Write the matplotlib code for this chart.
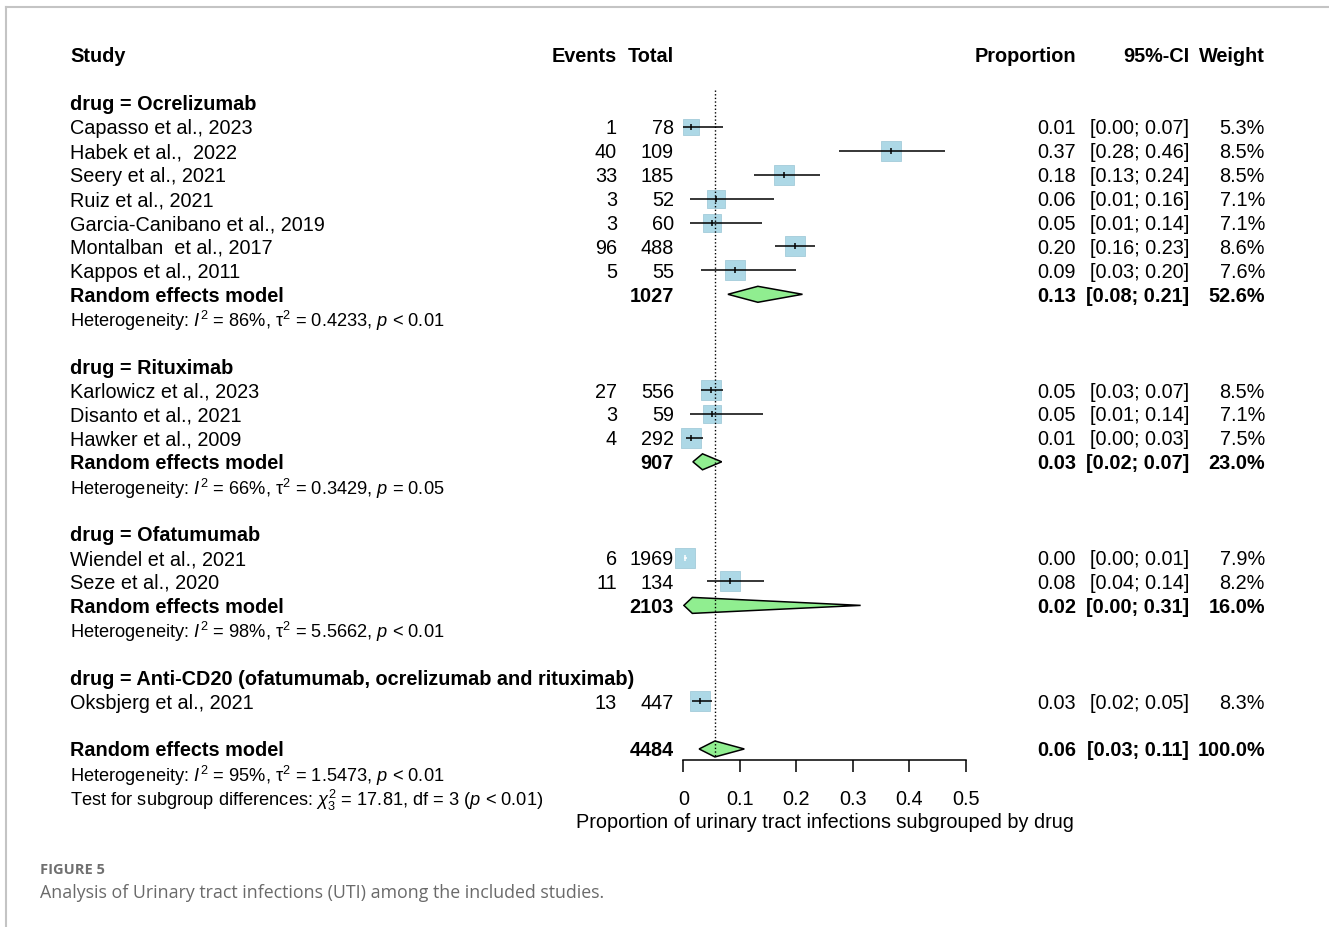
import matplotlib
matplotlib.use("Agg")
import matplotlib.pyplot as plt
import matplotlib.transforms as mtransforms
from matplotlib.lines import Line2D

W, H, DPI = 1329, 927, 100

# ---- data ----
groups = ["Ocrelizumab", "Rituximab", "Ofatumumab",
          "Anti-CD20 (ofatumumab, ocrelizumab and rituximab)"]
studies = ["Capasso et al., 2023", "Habek et al.,  2022", "Seery et al., 2021",
           "Ruiz et al., 2021", "Garcia-Canibano et al., 2019", "Montalban  et al., 2017",
           "Kappos et al., 2011",
           "Karlowicz et al., 2023", "Disanto et al., 2021", "Hawker et al., 2009",
           "Wiendel et al., 2021", "Seze et al., 2020",
           "Oksbjerg et al., 2021"]
study_group = [0, 0, 0, 0, 0, 0, 0, 1, 1, 1, 2, 2, 3]
events = [1, 40, 33, 3, 3, 96, 5, 27, 3, 4, 6, 11, 13]
totals = [78, 109, 185, 52, 60, 488, 55, 556, 59, 292, 1969, 134, 447]
prop = [0.013, 0.367, 0.179, 0.058, 0.050, 0.197, 0.091, 0.049, 0.051, 0.014, 0.003, 0.082, 0.029]
ci_lo = [0.000, 0.276, 0.126, 0.012, 0.011, 0.163, 0.031, 0.032, 0.011, 0.004, 0.001, 0.042, 0.016]
ci_hi = [0.071, 0.464, 0.242, 0.160, 0.140, 0.234, 0.200, 0.070, 0.141, 0.034, 0.007, 0.143, 0.050]
weights = [5.3, 8.5, 8.5, 7.1, 7.1, 8.6, 7.6, 8.5, 7.1, 7.5, 7.9, 8.2, 8.3]

# random effects per subgroup (None = single study, no pooled row)
grp_total = [1027, 907, 2103, None]
grp_est = [0.132, 0.034, 0.016, None]
grp_lo = [0.079, 0.017, 0.001, None]
grp_hi = [0.211, 0.068, 0.314, None]
grp_weight = [52.6, 23.0, 16.0, None]
grp_i2 = ["86%", "66%", "98%", None]
grp_tau2 = ["0.4233", "0.3429", "5.5662", None]
grp_p = ["< 0.01", "= 0.05", "< 0.01", None]

overall_total = 4484
overall_est, overall_lo, overall_hi, overall_weight = 0.056, 0.028, 0.108, 100.0
overall_het = ("95%", "1.5473", "< 0.01")
subgroup_test = ("17.81", "3", "< 0.01")

x_ticks = [0, 0.1, 0.2, 0.3, 0.4, 0.5]
x_ticklabels = ["0", "0.1", "0.2", "0.3", "0.4", "0.5"]
x_label = "Proportion of urinary tract infections subgrouped by drug"

# ---- style ----
FS = 14.3
FS_HET = 13.15
SQUARE = "#ADD8E6"
DIAMOND = "#90EE90"
ROW0_PX, ROW_PX = 55.0, 23.93
AX_X0_PX, AX_X1_PX = 683.3, 965.7

# column anchors (pixels)
X_STUDY = 70
X_EVENTS = 617
X_TOTAL = 674
X_PROP = 1076
X_CI = 1189
X_WEIGHT = 1265

plt.rcParams.update({
    "font.family": ["Liberation Sans", "DejaVu Sans"],
    "mathtext.fontset": "custom",
    "mathtext.rm": "Liberation Sans",
    "mathtext.it": "Liberation Sans:italic",
    "mathtext.bf": "Liberation Sans:bold",
})

fig = plt.figure(figsize=(W / DPI, H / DPI), dpi=DPI, facecolor="white")

ylo, yhi = 32.5, -0.5
top_px = ROW0_PX + yhi * ROW_PX
bot_px = ROW0_PX + ylo * ROW_PX
ax = fig.add_axes([AX_X0_PX / W, 1 - bot_px / H,
                   (AX_X1_PX - AX_X0_PX) / W, (bot_px - top_px) / H])
ax.set_xlim(0, 0.5)
ax.set_ylim(ylo, yhi)
ax.patch.set_visible(False)
for side in ["top", "left", "right"]:
    ax.spines[side].set_visible(False)
ax.spines["bottom"].set_position(("data", 29.46))
ax.spines["bottom"].set_bounds(0, 0.5)
ax.spines["bottom"].set_linewidth(1.1)
ax.set_yticks([])
ax.set_xticks(x_ticks)
ax.set_xticklabels(x_ticklabels)
ax.tick_params(axis="x", direction="out", length=8.6, width=1.1, pad=13, labelsize=FS)

tr = mtransforms.blended_transform_factory(fig.transFigure, ax.transData)


def put(xpx, row, s, ha="left", bold=False, size=FS, color="black"):
    ax.text(xpx / W, row, s, transform=tr, ha=ha, va="center_baseline",
            fontsize=size, fontweight="bold" if bold else "normal", color=color)


def het_text(i2, tau2, p):
    return (r"Heterogeneity: $I^2$ = " + i2 + r", $\mathrm{\tau}^2$ = "
            + tau2 + r", $p$ " + p)


def diamond(est, lo, hi, row, h=0.334):
    ax.fill([lo, est, hi, est], [row, row - h, row, row + h],
            facecolor=DIAMOND, edgecolor="black", linewidth=1.1, zorder=3)


def square_px(w):
    return 7.0 * w ** 0.5


# header
put(X_STUDY, 0, "Study", bold=True)
put(X_EVENTS, 0, "Events", ha="right", bold=True)
put(X_TOTAL, 0, "Total", ha="right", bold=True)
put(X_PROP, 0, "Proportion", ha="right", bold=True)
put(X_CI, 0, "95%-CI", ha="right", bold=True)
put(X_WEIGHT, 0, "Weight", ha="right", bold=True)

row = 2
for g, gname in enumerate(groups):
    put(X_STUDY, row, "drug = " + gname, bold=True)
    row += 1
    for i in [k for k, sg in enumerate(study_group) if sg == g]:
        put(X_STUDY, row, studies[i])
        put(X_EVENTS, row, str(events[i]), ha="right")
        put(X_TOTAL, row, str(totals[i]), ha="right")
        put(X_PROP, row, f"{prop[i]:.2f}", ha="right")
        put(X_CI, row, f"[{ci_lo[i]:.2f}; {ci_hi[i]:.2f}]", ha="right")
        put(X_WEIGHT, row, f"{weights[i]:.1f}%", ha="right")
        side = square_px(weights[i])
        half = side / 2 / (AX_X1_PX - AX_X0_PX) * 0.5
        inside = ci_lo[i] > prop[i] - half and ci_hi[i] < prop[i] + half
        lc = "white" if inside else "black"
        ax.plot(prop[i], row, marker="s", ms=side * 72 / DPI, mfc=SQUARE,
                mec="#a3cbd9", mew=0.6, zorder=2, clip_on=False)
        ax.plot([ci_lo[i], ci_hi[i]], [row, row], color=lc, lw=1.1,
                zorder=4, clip_on=False, solid_capstyle="butt")
        ax.plot(prop[i], row, marker="|", ms=4.5, mew=1.1, color=lc,
                zorder=4, clip_on=False)
        row += 1
    if grp_est[g] is not None:
        put(X_STUDY, row, "Random effects model", bold=True)
        put(X_TOTAL, row, str(grp_total[g]), ha="right", bold=True)
        put(X_PROP, row, f"{grp_est[g]:.2f}", ha="right", bold=True)
        put(X_CI, row, f"[{grp_lo[g]:.2f}; {grp_hi[g]:.2f}]", ha="right", bold=True)
        put(X_WEIGHT, row, f"{grp_weight[g]:.1f}%", ha="right", bold=True)
        diamond(grp_est[g], grp_lo[g], grp_hi[g], row)
        put(X_STUDY, row + 1, het_text(grp_i2[g], grp_tau2[g], grp_p[g]), size=FS_HET)
        row += 2
    row += 1

# overall
put(X_STUDY, row, "Random effects model", bold=True)
put(X_TOTAL, row, str(overall_total), ha="right", bold=True)
put(X_PROP, row, f"{overall_est:.2f}", ha="right", bold=True)
put(X_CI, row, f"[{overall_lo:.2f}; {overall_hi:.2f}]", ha="right", bold=True)
put(X_WEIGHT, row, f"{overall_weight:.1f}%", ha="right", bold=True)
diamond(overall_est, overall_lo, overall_hi, row)
put(X_STUDY, row + 1, het_text(*overall_het), size=FS_HET)
put(X_STUDY, row + 2, r"Test for subgroup differences: $\chi^2_3$ = " + subgroup_test[0]
    + ", df = " + subgroup_test[1] + r" ($p$ " + subgroup_test[2] + ")", size=FS_HET)

ax.vlines(overall_est, 1.45, row + 0.3, colors="black", linestyles=(0, (1, 1.6)),
          linewidth=1.0, zorder=5)

ax.text(0.25, row + 3, x_label, ha="center", va="center_baseline", fontsize=FS)

# caption and frame
fig.text(40 / W, 1 - 868 / H, "FIGURE 5", fontsize=10.5, fontweight="bold",
         family="Open Sans", color="#707070", va="center_baseline")
fig.text(40 / W, 1 - 891 / H,
         "Analysis of Urinary tract infections (UTI) among the included studies.",
         fontsize=12.8, family="Open Sans", color="#6a6a6a", va="center_baseline")
fig.add_artist(Line2D([6 / W, 1], [1 - 7 / H, 1 - 7 / H], transform=fig.transFigure,
                      color="#c4c4c4", lw=1.5))
fig.add_artist(Line2D([6 / W, 6 / W], [0, 1 - 7 / H], transform=fig.transFigure,
                      color="#c4c4c4", lw=1.5))

fig.savefig("out.png", dpi=DPI, facecolor="white")
